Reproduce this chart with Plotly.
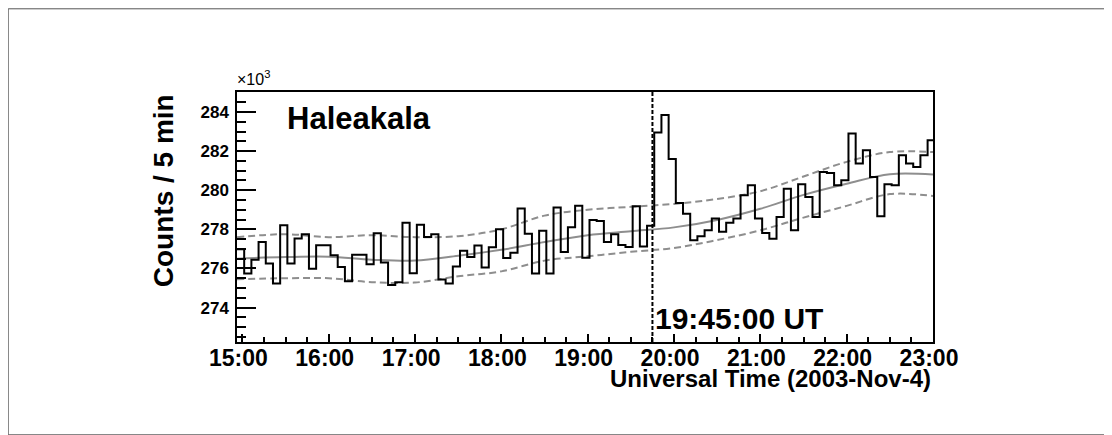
import pandas as pd
import plotly.graph_objects as go

# ---------------- data ----------------
DAY = "2003-11-04"
bin_start = "14:56:15"      # left edge of first 5-min bin
bin_minutes = 5

# counts per 5 min, in units of 10^3
counts_k = [
    276.98, 275.74, 276.45, 277.35, 276.25, 275.23, 278.21, 276.25, 277.53, 277.75,
    275.99, 277.19, 277.19, 276.67, 276.08, 275.34, 276.70, 276.70, 276.21, 277.80,
    276.30, 275.15, 275.30, 278.33, 275.76, 278.24, 277.61, 277.75, 275.43, 275.23,
    276.10, 276.90, 276.59, 277.17, 276.05, 277.08, 278.00, 276.54, 276.80, 279.07,
    277.77, 275.74, 277.93, 275.74, 279.12, 276.84, 278.10, 279.20, 276.55, 278.48,
    278.43, 277.35, 277.75, 277.20, 277.10, 279.18, 277.12, 278.18, 282.95, 283.85,
    281.60, 279.35, 278.80, 277.44, 277.65, 277.95, 278.55, 277.87, 278.33, 278.55,
    279.74, 280.25, 278.55, 277.81, 277.52, 278.63, 280.08, 277.95, 280.30, 279.65,
    278.63, 280.93, 280.88, 280.25, 280.51, 282.90, 281.36, 282.04, 280.68, 278.67,
    280.30, 280.25, 281.79, 281.36, 281.19, 281.79, 282.55,
]

band_times = ["14:56:15", "15:30", "16:00", "16:30", "17:00", "17:30", "18:00", "18:30",
              "19:00", "19:30", "20:00", "20:30", "21:00", "21:30", "22:00", "22:30", "23:00"]
mean_k  = [276.50, 276.58, 276.60, 276.45, 276.40, 276.65, 276.95, 277.35,
           277.70, 277.90, 278.10, 278.48, 279.05, 279.76, 280.33, 280.82, 280.80]
upper_k = [277.60, 277.75, 277.60, 277.70, 277.60, 277.65, 278.00, 278.70,
           279.00, 279.15, 279.30, 279.55, 279.95, 280.70, 281.45, 281.95, 281.95]
lower_k = [275.45, 275.50, 275.50, 275.30, 275.28, 275.60, 275.85, 276.40,
           276.62, 276.85, 277.05, 277.45, 277.95, 278.60, 279.20, 279.80, 279.70]

x_tick_labels = ["15:00", "16:00", "17:00", "18:00", "19:00", "20:00", "21:00", "22:00", "23:00"]
y_range = [272.24, 285.02]
x_end = "23:00:00"
event_time = "19:45:00"

# ---------------- build ----------------
edges = pd.date_range(f"{DAY} {bin_start}", periods=len(counts_k) + 1, freq=f"{bin_minutes}min")
hist_y = counts_k + [counts_k[-1]]
band_x = [pd.Timestamp(f"{DAY} {t}") for t in band_times]
tickvals = [pd.Timestamp(f"{DAY} {t}") for t in x_tick_labels]

BOLD = "Liberation Sans"
GRAY = "#8e8e8e"

# page body has an 8px margin: figure is drawn from page (8, 8)
OFF = 8
W, H = 1112 - OFF, 435 - OFF
# plot frame in page pixels
FX0, FX1, FY0, FY1 = 237.3, 933.3, 91.7, 341.7
L, T = FX0 - OFF, FY0 - OFF
R, B = W - (FX1 - OFF), H - (FY1 - OFF)
pw, ph = FX1 - FX0, FY1 - FY0


def px(x):   # page x -> paper
    return (x - FX0) / pw


def py(y):   # page y -> paper
    return (FY1 - y) / ph


fig = go.Figure()
fig.add_trace(go.Scatter(x=band_x, y=upper_k, mode="lines", line_shape="spline",
                         line=dict(color=GRAY, width=2, dash="7px,4px"), hoverinfo="skip"))
fig.add_trace(go.Scatter(x=band_x, y=lower_k, mode="lines", line_shape="spline",
                         line=dict(color=GRAY, width=2, dash="7px,4px"), hoverinfo="skip"))
fig.add_trace(go.Scatter(x=band_x, y=mean_k, mode="lines", line_shape="spline",
                         line=dict(color=GRAY, width=2), hoverinfo="skip"))
fig.add_trace(go.Scatter(x=edges, y=hist_y, mode="lines", line_shape="hv",
                         line=dict(color="black", width=2)))

fig.add_shape(type="line", xref="x", yref="paper",
              x0=f"{DAY} {event_time}", x1=f"{DAY} {event_time}", y0=0, y1=1,
              line=dict(color="black", width=2, dash="4px,2px"))

# outer canvas border
fig.add_shape(type="rect", xref="paper", yref="paper",
              x0=px(OFF + 0.5), x1=px(1111.5), y0=py(434.5), y1=py(OFF + 0.5),
              line=dict(color="#555", width=1))

fig.add_annotation(text="<b>Haleakala</b>", xref="paper", yref="paper",
                   x=px(285), y=py(118.5), xanchor="left", yanchor="middle",
                   showarrow=False, font=dict(family=BOLD, size=31, color="black"))
fig.add_annotation(text="<b>19:45:00 UT</b>", xref="paper", yref="paper",
                   x=px(653.5), y=py(318.3), xanchor="left", yanchor="middle",
                   showarrow=False, font=dict(family=BOLD, size=30, color="black"))
fig.add_annotation(text="×10<sup>3</sup>", xref="paper", yref="paper",
                   x=px(235.5), y=py(90), xanchor="left", yanchor="bottom",
                   showarrow=False, font=dict(family=BOLD, size=16, color="black"))
fig.add_annotation(text="<b>Universal Time (2003-Nov-4)</b>", xref="paper", yref="paper",
                   x=1.0, y=py(378), xanchor="right", yanchor="middle",
                   showarrow=False, font=dict(family=BOLD, size=24, color="black"))
fig.add_annotation(text="<b>Counts / 5 min</b>", xref="paper", yref="paper",
                   x=px(164), y=1.0, xanchor="center", yanchor="top", textangle=-90,
                   showarrow=False, font=dict(family=BOLD, size=28, color="black"))

fig.update_layout(
    width=W, height=H, autosize=False,
    margin=dict(l=L, r=R, t=T, b=B, pad=0),
    paper_bgcolor="white", plot_bgcolor="white",
    showlegend=False,
    xaxis=dict(
        type="date",
        range=[f"{DAY} {bin_start}", f"{DAY} {x_end}"],
        tickvals=tickvals, ticktext=x_tick_labels,
        ticks="inside", ticklen=8, tickwidth=1.5, tickcolor="black",
        minor=dict(dtick=15 * 60 * 1000, tick0=f"{DAY} 15:00", ticks="inside",
                   ticklen=5, tickwidth=1.5, tickcolor="black"),
        showline=True, linecolor="black", linewidth=1.5, mirror=True,
        showgrid=False, zeroline=False,
        tickfont=dict(family=BOLD, size=23, color="black", weight="bold"),
        ticklabelshift=-4, ticklabelstandoff=-5,
    ),
    yaxis=dict(
        range=y_range, tick0=274, dtick=2,
        ticks="inside", ticklen=19, tickwidth=1.5, tickcolor="black",
        minor=dict(dtick=0.5, ticks="inside", ticklen=9.5, tickwidth=1.5, tickcolor="black"),
        showline=True, linecolor="black", linewidth=1.5, mirror=True,
        showgrid=False, zeroline=False,
        tickfont=dict(family=BOLD, size=17, color="black", weight="bold"),
        ticklabelstandoff=3,
    ),
)

fig.write_html("out.html")
